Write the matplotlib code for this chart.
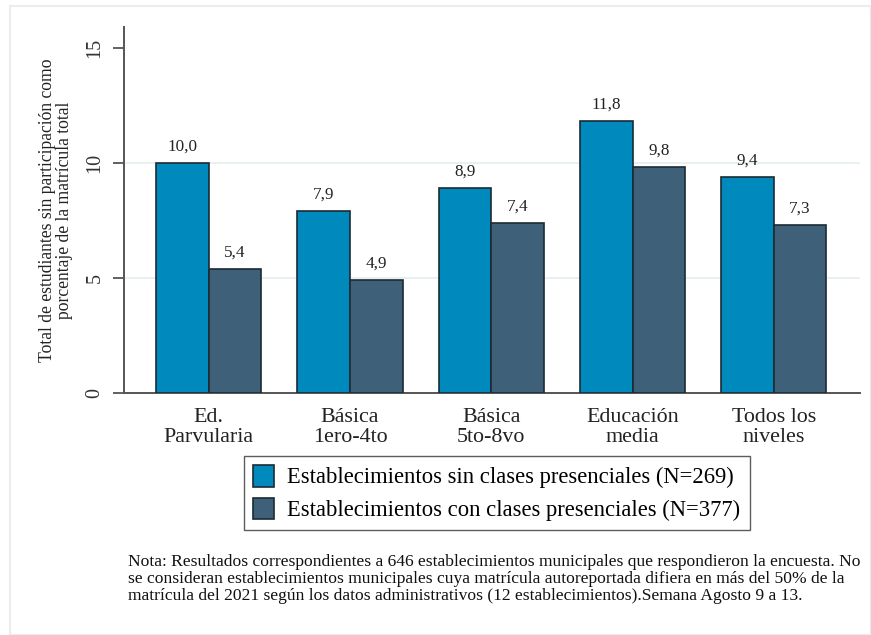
import matplotlib
matplotlib.use("Agg")
import matplotlib.pyplot as plt
from matplotlib.patches import Rectangle
import numpy as np

categories = ["Ed.\nParvularia", "Básica\n1ero-4to", "Básica\n5to-8vo", "Educación\nmedia", "Todos los\nniveles"]
sin_clases = [10.0, 7.9, 8.9, 11.8, 9.4]
con_clases = [5.4, 4.9, 7.4, 9.8, 7.3]
series_labels = ["Establecimientos sin clases presenciales (N=269)",
                 "Establecimientos con clases presenciales (N=377)"]
yticks = [0, 5, 10, 15]
ylabel = "Total de estudiantes sin participación como\nporcentaje de la matrícula total"
note = ("Nota: Resultados correspondientes a 646 establecimientos municipales que respondieron la encuesta. No\n"
        "se consideran establecimientos municipales cuya matrícula autoreportada difiera en más del 50% de la\n"
        "matrícula del 2021 según los datos administrativos (12 establecimientos).Semana Agosto 9 a 13.")

plt.rcParams['font.family'] = ['Liberation Serif', 'DejaVu Serif']

W, H = 871, 635
fig = plt.figure(figsize=(W/100, H/100), dpi=100)
fig.patch.set_facecolor("white")
# light outer frame
fig.add_artist(Rectangle((10/W, 0), 1 - 10/W, 1 - 6/H, transform=fig.transFigure,
                         fill=False, edgecolor="#e8eeee", linewidth=1.5))

ax = fig.add_axes([124/W, 1 - 393/H, (860-124)/W, (393-27)/H])
x = np.arange(len(categories))
w = 0.372
c1, c2 = "#0089BD", "#3E6079"
edge = "#1c2b33"
b1 = ax.bar(x - w/2, sin_clases, w, color=c1, edgecolor=edge, linewidth=1.2, label=series_labels[0], zorder=3)
b2 = ax.bar(x + w/2, con_clases, w, color=c2, edgecolor=edge, linewidth=1.2, label=series_labels[1], zorder=3)
for bars, vals in ((b1, sin_clases), (b2, con_clases)):
    for r, v in zip(bars, vals):
        ax.annotate(f"{v:.1f}".replace(".", ","), (r.get_x() + r.get_width()/2, v),
                    xytext=(0, 6), textcoords="offset points", ha="center", va="bottom",
                    fontsize=12.3, color="#222222")

ax.set_xlim(-0.6, 4.61)
ax.set_ylim(0, 15.9)
ax.set_yticks(yticks)
ax.set_yticklabels([str(t) for t in yticks], rotation=90, va="center", fontsize=14.5, color="#333333")
ax.set_xticks(x)
ax.set_xticklabels(categories, fontsize=15.8, color="#222222", linespacing=1.05)
ax.tick_params(axis="x", length=0, pad=11)
ax.tick_params(axis="y", length=8, width=1.3, color="#555555", pad=6)
for t in [5, 10]:
    ax.axhline(t, color="#e6eff1", linewidth=1.3, zorder=1)
for s in ["top", "right"]:
    ax.spines[s].set_visible(False)
for s in ["left", "bottom"]:
    ax.spines[s].set_color("#555555")
    ax.spines[s].set_linewidth(1.4)
ax.set_ylabel(ylabel, fontsize=12.7, color="#222222", labelpad=9, linespacing=1.0)

leg = fig.legend(handles=[b1, b2], loc="center", bbox_to_anchor=(497/W, 1 - 493/H),
                 fontsize=16.3, frameon=True, fancybox=False, edgecolor="#333333",
                 handlelength=0.9, handleheight=1.1, handletextpad=0.6, borderpad=0.4,
                 labelspacing=0.4, borderaxespad=0)
leg.get_frame().set_linewidth(1.0)

fig.text(128/W, 1 - 554/H, note, ha="left", va="top", fontsize=12.6, color="#111111", linespacing=1.08)

fig.savefig("out.png", dpi=100)
